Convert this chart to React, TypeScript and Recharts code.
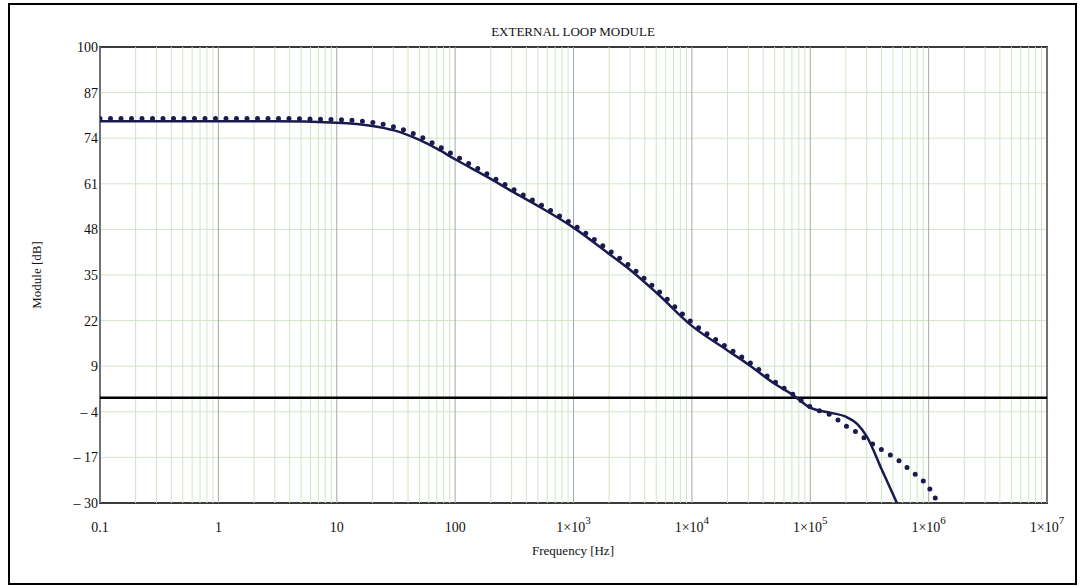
import { LineChart, Line, XAxis, YAxis, CartesianGrid, ReferenceLine, ReferenceArea } from 'recharts';

// frequency points [Hz]
const freq = [0.1, 0.3, 1, 3, 10, 20, 30, 50, 70, 100, 200, 300, 500, 1000, 2000, 3000, 5000, 1e4, 2e4, 3e4, 5e4, 7e4, 1e5, 1.5e5, 2e5, 2.5e5, 3e5, 4e5, 5.4e5, 7e5, 1e6, 1.2e6];
// module [dB], solid trace
const solid = [78.8, 78.8, 78.8, 78.8, 78.4, 77.5, 76.3, 73.5, 71, 68, 62.4, 58.9, 54.7, 48.5, 41, 36.5, 30, 20.5, 13.5, 9.5, 4, 1, -2.8, -4.3, -5.4, -7.5, -11, -20.3, -30, null, null, null];
// module [dB], dotted trace
const dotted = [79.6, 79.6, 79.6, 79.6, 79.3, 78.5, 77.3, 74.6, 72, 69, 63.2, 59.7, 55.5, 49.3, 42, 37.5, 31, 21.5, 14.3, 10.3, 4.6, 1.2, -2.6, -5, -8, -10, -12, -14.8, -17.5, -20.7, -25.5, -30];

const xTicks = [0.1, 1, 10, 100, 1e3, 1e4, 1e5, 1e6, 1e7];
const xTickBase = ['0.1', '1', '10', '100', '1×10', '1×10', '1×10', '1×10', '1×10'];
const xTickExp = ['', '', '', '', '3', '4', '5', '6', '7'];
const yTicks = [-30, -17, -4, 9, 22, 35, 48, 61, 74, 87, 100];
const decades = [0.1, 1, 10, 100, 1e3, 1e4, 1e5, 1e6];
const minorSteps = [2, 3, 4, 5, 6, 7, 8, 9];

const data = freq.map((f, i) => ({ f, solid: solid[i], dotted: dotted[i] }));
const minorLines = decades.flatMap(d => minorSteps.map(m => d * m));

const font = '"Liberation Serif", "Times New Roman", serif';
const navy = '#1a1a4e';

function XTick(props: any) {
    const { x, y, payload } = props;
    const i = xTicks.indexOf(payload.value);
    return (
        <text x={x} y={y + 27} textAnchor="middle" fontFamily={font} fontSize={14} fill="#111">
            <tspan>{xTickBase[i]}</tspan>
            {xTickExp[i] && <tspan dy={-8} fontSize={11}>{xTickExp[i]}</tspan>}
        </text>
    );
}

export default function App() {
    return (
        <div style={{ position: 'absolute', left: 0, top: 0, width: 1084, height: 586, background: '#fff', fontFamily: font }}>
            <div style={{ position: 'absolute', left: 8, top: 3, width: 1069, height: 582, border: '2px solid #000', boxSizing: 'border-box' }} />
            <div style={{ position: 'absolute', left: 573, top: 32, transform: 'translate(-50%,-50%)', fontSize: 13, whiteSpace: 'nowrap', color: '#111' }}>
                EXTERNAL LOOP MODULE
            </div>
            <div style={{ position: 'absolute', left: 37, top: 275, transform: 'translate(-50%,-50%) rotate(-90deg)', fontSize: 13, whiteSpace: 'nowrap', color: '#111' }}>
                Module [dB]
            </div>
            <div style={{ position: 'absolute', left: 573, top: 551, transform: 'translate(-50%,-50%)', fontSize: 13, whiteSpace: 'nowrap', color: '#111' }}>
                Frequency [Hz]
            </div>
            <div style={{ position: 'absolute', left: 0, top: 0 }}>
                <LineChart width={1084} height={586} data={data} margin={{ top: 47, right: 37, bottom: 40, left: 40 }}>
                    <CartesianGrid vertical={false} stroke="#d3e3cc" strokeWidth={1} />
                    {minorLines.map(v => (
                        <ReferenceLine key={'m' + v} x={v} stroke="#cfe5c4" strokeWidth={1} />
                    ))}
                    {xTicks.map(v => (
                        <ReferenceLine key={'d' + v} x={v} stroke="#a8a8a8" strokeWidth={1} />
                    ))}
                    <XAxis
                        dataKey="f"
                        type="number"
                        scale="log"
                        domain={[0.1, 1e7]}
                        ticks={xTicks}
                        allowDataOverflow
                        height={43}
                        tickLine={false}
                        axisLine={false}
                        tickSize={0}
                        tick={<XTick />}
                    />
                    <YAxis
                        type="number"
                        domain={[-30, 100]}
                        ticks={yTicks}
                        allowDataOverflow
                        width={60}
                        tickLine={false}
                        axisLine={false}
                        tickSize={0}
                        tickMargin={2}
                        tick={{ fill: '#111', fontSize: 14, fontFamily: font }}
                        tickFormatter={(v: number) => (v < 0 ? '– ' + Math.abs(v) : String(v))}
                    />
                    <ReferenceLine y={0} stroke="#000" strokeWidth={2.5} />
                    <Line
                        type="monotone"
                        dataKey="dotted"
                        stroke={navy}
                        strokeWidth={5}
                        strokeDasharray="0 10.5"
                        strokeLinecap="round"
                        dot={false}
                        activeDot={false}
                        isAnimationActive={false}
                    />
                    <Line
                        type="monotone"
                        dataKey="solid"
                        stroke={navy}
                        strokeWidth={2.5}
                        dot={false}
                        activeDot={false}
                        connectNulls={false}
                        isAnimationActive={false}
                    />
                    <ReferenceArea x1={0.1} x2={1e7} y1={-30} y2={100} fill="none" stroke="#3a3a3a" strokeWidth={2} />
                </LineChart>
            </div>
        </div>
    );
}
